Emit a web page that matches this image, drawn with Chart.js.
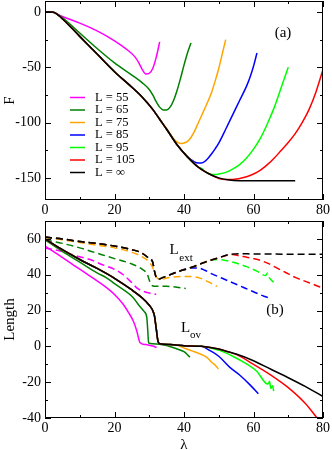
<!DOCTYPE html>
<html>
<head>
<meta charset="utf-8">
<script src="https://cdn.jsdelivr.net/npm/chart.js@4.4.0/dist/chart.umd.min.js"></script>
<style>
  body { margin: 0; background: #fff; }
  #wrap { position: relative; width: 332px; height: 450px; }
  canvas { position: absolute; left: 0; }
</style>
</head>
<body>
<div id="wrap">
  <canvas id="topChart" width="332" height="215" style="top:0"></canvas>
  <canvas id="botChart" width="332" height="235" style="top:215px"></canvas>
</div>
<script>
// Legend / colours
const legendLabels = ['L = 55', 'L = 65', 'L = 75', 'L = 85', 'L = 95', 'L = 105', 'L = \u221e'];
const lineColors = ['#ff00ff', '#008000', '#ffa500', '#0000ff', '#00ff00', '#ff0000', '#000000'];

// Axis ticks
const lamTicks = [0, 20, 40, 60, 80];
const lamMinor = [10, 30, 50, 70];
const fTicks = [-150, -100, -50, 0];
const fMinor = [-125, -75, -25];
const lenTicks = [-40, -20, 0, 20, 40, 60];
const lenMinor = [-30, -10, 10, 30, 50];

// Panel (a): F vs lambda
const lamF55 = [0, 2, 3, 5, 10, 15, 20, 24, 26, 27, 28, 29, 30, 31, 32, 33];
const valF55 = [0, 0, -1, -4, -10, -17, -26, -35, -41, -46, -52, -56, -55.5, -51, -41, -27];
const lamF65 = [0, 2, 3, 5, 10, 15, 20, 25, 28, 30, 31, 32, 33, 34, 35, 36, 37, 38, 39, 40, 41, 42];
const valF65 = [0, 0, -1, -5, -19, -33, -46, -57, -64, -70, -75, -81, -86, -88.5, -88.5, -86, -80, -71, -60, -48, -37, -28];
const lamF75 = [0, 2, 3, 5, 10, 15, 20, 25, 28, 31, 33, 35, 36, 37, 38, 39, 40, 41, 42, 43, 44, 45, 46, 47, 48, 49, 50, 51, 52];
const valF75 = [0, 0, -1, -6, -22, -38, -54, -68, -77, -88, -97, -105.5, -110, -114.5, -117.5, -119, -118.5, -117, -113.5, -108, -101, -94, -87, -80, -72, -62, -51, -38, -25];
const lamF85 = [0, 2, 3, 5, 10, 15, 20, 25, 28, 31, 33, 35, 38, 41, 42, 43, 44, 45, 46, 47, 48, 49, 50, 52, 54, 56, 58, 59, 60, 61];
const valF85 = [0, 0, -1, -6, -22, -38, -54, -68, -77, -88, -97, -106, -120, -131, -133.5, -135.5, -136.5, -136.5, -135, -132, -128, -123.5, -118.5, -106, -93, -80, -67, -59, -49, -37];
const lamF95 = [0, 2, 3, 5, 10, 15, 20, 25, 28, 31, 33, 35, 38, 41, 44, 45, 46, 47, 48, 49, 50, 52, 54, 56, 58, 60, 62, 64, 66, 68, 70];
const valF95 = [0, 0, -1, -6, -22, -38, -54, -68, -77, -88, -97, -106, -120, -131, -140, -141.5, -144, -146, -147, -147, -146.5, -145, -142, -138, -132, -124, -114, -101, -86, -68, -50];
const lamF105 = [0, 2, 3, 5, 10, 15, 20, 25, 28, 31, 33, 35, 38, 41, 44, 47, 50, 52, 54, 56, 58, 60, 62, 64, 66, 68, 70, 72, 74, 76, 78, 80];
const valF105 = [0, 0, -1, -6, -22, -38, -54, -68, -77, -88, -97, -106, -120, -131, -140, -146, -150.5, -151.5, -151.5, -150.5, -149, -146.5, -143, -138, -132, -125, -118, -110, -100, -88, -72, -52];
const lamFInf = [0, 2, 3, 5, 10, 15, 20, 25, 28, 31, 33, 35, 38, 41, 44, 47, 50, 53, 56, 72];
const valFInf = [0, 0, -1, -6, -22, -38, -54, -68, -77, -88, -97, -106, -120, -131, -140, -146, -150, -152, -152.5, -152.5];

// Panel (b): L_ext (dashed)
const lamE55 = [0, 5, 10, 13, 16, 20, 22.5, 25, 26.5, 28, 30, 32];
const valE55 = [55, 53, 50, 48.5, 46, 43, 40, 35.5, 32.5, 31, 29.8, 29];
const lamE65 = [0, 5, 10, 15, 20, 25, 28, 29.5, 30, 30.5, 32, 35, 38, 40.5];
const valE65 = [59.5, 57.5, 55, 52, 49, 46, 43, 40, 37, 34.5, 33.5, 33.5, 33, 32.3];
const lamE75 = [0, 5, 10, 15, 20, 25, 28, 30, 31, 32, 33, 36, 39, 42, 44, 46, 48, 49.5];
const valE75 = [60.5, 59.5, 58, 56.5, 55, 52.5, 50, 47, 44, 39, 37.5, 38.5, 39, 39, 38.5, 37, 35, 33.5];
const lamE85 = [0, 5, 10, 15, 20, 25, 28, 30, 31, 31.5, 32, 32.5, 34, 38, 42, 44, 46, 48, 51, 54, 57, 60, 63, 64.7];
const valE85 = [61, 60, 58.5, 57.5, 56, 54, 52, 49, 47, 42, 38.5, 37.5, 38.5, 41.5, 43.8, 43.8, 42.5, 40.5, 38, 35.5, 33, 30.5, 28, 27];
const lamE95 = [0, 5, 10, 15, 20, 25, 28, 30, 31, 31.5, 32, 32.5, 34, 38, 42, 46, 48, 50, 52, 55, 58, 61, 63.5, 64, 64.5, 66];
const valE95 = [61, 60, 58.5, 57.5, 56, 54, 52, 49, 47, 42, 38.5, 37.5, 38.5, 41.5, 44, 47, 48.2, 48.5, 48, 46.5, 44.5, 42, 39.5, 41, 38.5, 35.5];
const lamE105 = [0, 5, 10, 15, 20, 25, 28, 30, 31, 31.5, 32, 32.5, 34, 38, 42, 46, 50, 53, 54, 56, 58, 60, 62, 64, 66, 68, 70, 72, 74, 76, 78, 80];
const valE105 = [61, 60, 58.5, 57.5, 56, 54, 52, 49, 47, 42, 38.5, 37.5, 38.5, 41.5, 44, 47, 49.5, 51.2, 51.3, 50.5, 49.8, 49, 48, 46.5, 44.5, 42.5, 40.5, 38.5, 37, 35.5, 34, 32.5];
const lamEInf = [0, 5, 10, 15, 20, 25, 28, 30, 31, 31.5, 32, 32.5, 34, 38, 42, 46, 50, 53, 56, 60, 70, 80];
const valEInf = [61, 60, 58.5, 57.5, 56, 54, 52, 49, 47, 42, 38.5, 37.5, 38.5, 41.5, 44, 47, 49.5, 51.3, 51.7, 51.6, 51.5, 51.5];

// Panel (b): L_ov (solid)
const lamO55 = [0, 4, 8, 12, 17.7, 20, 22.5, 24, 25.4, 26.4, 27, 27.3, 29, 31, 32.1];
const valO55 = [56, 51, 45.7, 40.5, 32.8, 29, 23.5, 19, 14.2, 8.7, 4, 2.2, 1, 0.2, -0.6];
const lamO65 = [0, 5, 10, 15, 17.7, 20, 25.4, 27, 28.5, 29.3, 29.6, 29.8, 31, 35, 38, 40, 41.7];
const valO65 = [59.5, 53, 47, 41, 38.3, 35, 27.2, 23, 19.5, 16, 8, 2, 1.5, 0.5, -1.5, -3, -6];
const lamO75 = [0, 5, 10, 15, 20, 25, 28, 30, 31, 31.5, 32, 32.5, 33, 36, 38, 40.8, 43, 46.5, 48, 49, 49.9];
const valO75 = [60, 54, 48.5, 43.5, 38, 31.5, 27, 23, 20, 17, 10, 3, 1.5, 1, 0.6, -1.5, -3, -6, -9, -10.5, -12.6];
const lamO85 = [0, 5, 10, 15, 20, 25, 28, 30, 31, 31.5, 32, 32.5, 33, 36, 40, 45, 47.5, 50, 53.2, 56, 59, 61.4];
const valO85 = [60, 54, 48.5, 43.5, 38, 31.5, 27, 23, 20, 17, 10, 3, 1.5, 1, 0.4, 0, -2.4, -5.5, -11.7, -16, -21.5, -26.5];
const lamO95 = [0, 5, 10, 15, 20, 25, 28, 30, 31, 31.5, 32, 32.5, 33, 36, 40, 45, 48, 50.4, 54, 58, 61, 63.8, 64.2, 64.6, 65, 65.5, 65.8];
const valO95 = [60, 54, 48.5, 43.5, 38, 31.5, 27, 23, 20, 17, 10, 3, 1.5, 1, 0.4, 0, -1, -2.4, -5.5, -9.8, -14, -20.9, -21, -19.5, -23.5, -22, -25];
const lamO105 = [0, 5, 10, 15, 20, 25, 28, 30, 31, 31.5, 32, 32.5, 33, 36, 40, 45, 50, 53, 55, 60, 65, 70, 75, 78.5, 80];
const valO105 = [60, 54, 48.5, 43.5, 38, 31.5, 27, 23, 20, 17, 10, 3, 1.5, 1, 0.4, 0, -1.5, -3.2, -4.5, -10, -16, -23, -32, -40.5, -44];
const lamOInf = [0, 5, 10, 15, 20, 25, 28, 30, 31, 31.5, 32, 32.5, 33, 36, 40, 45, 50, 53, 55, 60, 65, 70, 75, 80];
const valOInf = [60, 54, 48.5, 43.5, 38, 31.5, 27, 23, 20, 17, 10, 3, 1.5, 1, 0.4, 0, -1.5, -3.2, -4.3, -8, -12.8, -17.5, -22.5, -28];

const SERIF = "'Liberation Serif', 'Times New Roman', serif";

function pts(xs, ys) {
  return xs.map((x, i) => ({ x: x, y: ys[i] }));
}

function series(xs, ys, idx, dashed) {
  return {
    label: legendLabels[idx],
    data: pts(xs, ys),
    borderColor: lineColors[idx],
    borderWidth: 1.5,
    borderDash: dashed ? [7, 4] : [],
    pointRadius: 0,
    cubicInterpolationMode: 'monotone',
    // black on top
    order: idx === 6 ? 0 : 7 - idx
  };
}

// Box around plot area + inward tick marks on all four sides
const framePlugin = {
  id: 'frame',
  afterDatasetsDraw(chart, args, o) {
    const { ctx, chartArea: a, scales: { x, y } } = chart;
    ctx.save();
    ctx.strokeStyle = '#000';
    ctx.lineWidth = 1;
    ctx.strokeRect(a.left + 0.5, a.top + 0.5, a.width - 1, a.height - 1);
    ctx.beginPath();
    const xMark = (vals, len) => vals.forEach(v => {
      const px = Math.round(x.getPixelForValue(v)) + 0.5;
      ctx.moveTo(px, a.bottom); ctx.lineTo(px, a.bottom - len);
      ctx.moveTo(px, a.top); ctx.lineTo(px, a.top + len);
    });
    const yMark = (vals, len) => vals.forEach(v => {
      const py = Math.round(y.getPixelForValue(v)) + 0.5;
      ctx.moveTo(a.left, py); ctx.lineTo(a.left + len, py);
      ctx.moveTo(a.right, py); ctx.lineTo(a.right - len, py);
    });
    xMark(o.xMajor, 6); xMark(o.xMinor, 3);
    yMark(o.yMajor, 6); yMark(o.yMinor, 3);
    ctx.stroke();
    ctx.restore();
  }
};

// Free text labels: (a), (b), L_ext, L_ov
const notesPlugin = {
  id: 'notes',
  afterDraw(chart, args, o) {
    const ctx = chart.ctx;
    ctx.save();
    ctx.fillStyle = '#000';
    ctx.textBaseline = 'middle';
    ctx.textAlign = 'center';
    (o.items || []).forEach(t => {
      ctx.font = t.size + 'px ' + SERIF;
      ctx.fillText(t.text, t.x, t.y);
    });
    ctx.restore();
  }
};

// Legend inside panel (a)
const keyPlugin = {
  id: 'key',
  afterDraw(chart, args, o) {
    if (!o.show) return;
    const ctx = chart.ctx;
    ctx.save();
    ctx.font = '12.5px ' + SERIF;
    ctx.textBaseline = 'middle';
    ctx.textAlign = 'left';
    legendLabels.forEach((lab, i) => {
      const yy = o.y + i * o.step;
      ctx.strokeStyle = lineColors[i];
      ctx.lineWidth = 1.5;
      ctx.beginPath();
      ctx.moveTo(o.x, yy); ctx.lineTo(o.x + 15, yy);
      ctx.stroke();
      ctx.fillStyle = '#000';
      ctx.fillText(lab, o.x + 25, yy);
    });
    ctx.restore();
  }
};

function xScale(height, showTitle) {
  return {
    type: 'linear',
    min: 0,
    max: 80,
    afterBuildTicks: s => { s.ticks = lamTicks.map(v => ({ value: v })); },
    afterFit: s => { s.height = height; s.paddingLeft = 0; s.paddingRight = 0; },
    grid: { display: false, drawTicks: false },
    border: { display: false },
    ticks: { color: '#000', padding: 2, maxRotation: 0, autoSkip: false, font: { family: SERIF, size: 14 } },
    title: { display: showTitle, text: '\u03bb', color: '#000', padding: 0, font: { family: SERIF, size: 15, lineHeight: 0.7 } }
  };
}

function yScale(min, max, ticks, title) {
  return {
    type: 'linear',
    min: min,
    max: max,
    afterBuildTicks: s => { s.ticks = ticks.map(v => ({ value: v })); },
    afterFit: s => { s.width = 45; s.paddingTop = 0; s.paddingBottom = 0; },
    grid: { display: false, drawTicks: false },
    border: { display: false },
    ticks: { color: '#000', padding: 4, autoSkip: false, font: { family: SERIF, size: 14 } },
    title: { display: true, text: title, color: '#000', padding: { top: 1, bottom: 0 }, font: { family: SERIF, size: 15, lineHeight: 1.2 } }
  };
}

const commonPlugins = { legend: { display: false }, tooltip: { enabled: false } };

new Chart(document.getElementById('topChart'), {
  type: 'line',
  data: {
    datasets: [
      series(lamF55, valF55, 0, false),
      series(lamF65, valF65, 1, false),
      series(lamF75, valF75, 2, false),
      series(lamF85, valF85, 3, false),
      series(lamF95, valF95, 4, false),
      series(lamF105, valF105, 5, false),
      series(lamFInf, valFInf, 6, false)
    ]
  },
  options: {
    responsive: false,
    animation: false,
    layout: { padding: { top: 1, right: 9, left: 0, bottom: 0 } },
    scales: { x: xScale(15, false), y: yScale(-170, 10, fTicks, 'F') },
    plugins: Object.assign({}, commonPlugins, {
      frame: { xMajor: lamTicks, xMinor: lamMinor, yMajor: fTicks, yMinor: fMinor },
      key: { show: true, x: 70, y: 97.5, step: 12.5 },
      notes: { items: [{ text: '(a)', x: 283, y: 33, size: 15 }] }
    })
  },
  plugins: [framePlugin, keyPlugin, notesPlugin]
});

new Chart(document.getElementById('botChart'), {
  type: 'line',
  data: {
    datasets: [
      series(lamE55, valE55, 0, true),
      series(lamE65, valE65, 1, true),
      series(lamE75, valE75, 2, true),
      series(lamE85, valE85, 3, true),
      series(lamE95, valE95, 4, true),
      series(lamE105, valE105, 5, true),
      series(lamEInf, valEInf, 6, true),
      series(lamO55, valO55, 0, false),
      series(lamO65, valO65, 1, false),
      series(lamO75, valO75, 2, false),
      series(lamO85, valO85, 3, false),
      series(lamO95, valO95, 4, false),
      series(lamO105, valO105, 5, false),
      series(lamOInf, valOInf, 6, false)
    ]
  },
  options: {
    responsive: false,
    animation: false,
    layout: { padding: { top: 6, right: 9, left: 0, bottom: 0 } },
    scales: { x: xScale(32, true), y: yScale(-40, 70, lenTicks, 'Length') },
    plugins: Object.assign({}, commonPlugins, {
      frame: { xMajor: lamTicks, xMinor: lamMinor, yMajor: lenTicks, yMinor: lenMinor.concat([70]) },
      key: { show: false },
      notes: { items: [
        { text: '(b)', x: 275, y: 95, size: 15 },
        { text: 'L', x: 174, y: 35, size: 15 },
        { text: 'ext', x: 186, y: 43, size: 11 },
        { text: 'L', x: 185.5, y: 113, size: 15 },
        { text: 'ov', x: 195.5, y: 120, size: 11 }
      ] }
    })
  },
  plugins: [framePlugin, keyPlugin, notesPlugin]
});
</script>
</body>
</html>
